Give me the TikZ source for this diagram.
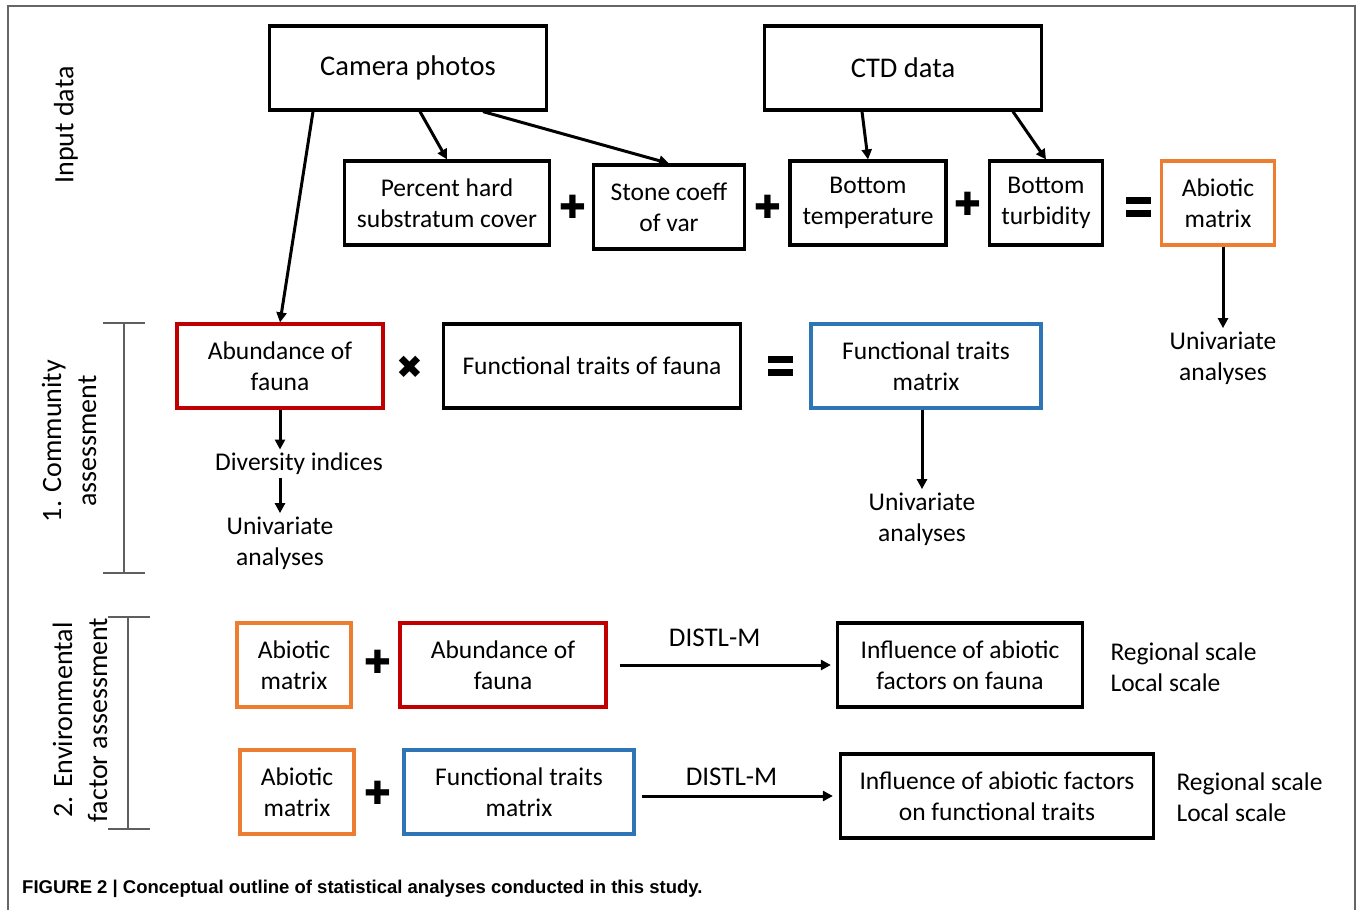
\documentclass[tikz,border=0pt]{standalone}
\usepackage{fontspec}
\setmainfont{Carlito}
\newfontfamily\symfont{DejaVu Sans}
\newfontfamily\capfont{Liberation Sans}
\usetikzlibrary{arrows.meta}

\definecolor{boxred}{RGB}{192,0,0}
\definecolor{boxorange}{RGB}{237,125,49}
\definecolor{boxblue}{RGB}{46,117,182}
\definecolor{bracketgray}{RGB}{95,95,95}

\newcommand\eqsign{\vbox{\hrule width 25pt height 7pt\vskip 6pt\hrule width 25pt height 7pt}}

\tikzset{
  box/.style={draw, line width=3.2pt, minimum height=84pt, inner sep=0pt, align=center, font=\fontsize{25.5}{31}\selectfont},
  op/.style={inner sep=0pt, font=\symfont\fontsize{32}{32}\selectfont},
  plain/.style={align=center, font=\fontsize{25.5}{31}\selectfont},
  side/.style={rotate=90, align=center, font=\fontsize{28}{35}\selectfont},
  flow/.style={->, line width=3pt},
  bracket/.style={draw=bracketgray, line width=1.1pt},
}

\begin{document}
\begin{tikzpicture}[x=1pt, y=-1pt, >={Triangle[length=10pt,width=10pt]}]
  \useasboundingbox (0,0) rectangle (1358,910);
  % Frame
  \draw[black!60, line width=1.6pt] (8,910) -- (8,6) -- (1355,6) -- (1355,910);

  % Input data
  \node[box, minimum width=277pt, font=\fontsize{28.5}{34}\selectfont] (camera) at (408,68) {Camera photos};
  \node[box, minimum width=277pt, font=\fontsize{28.5}{34}\selectfont] (ctd) at (903,68) {CTD data};
  \node[box, minimum width=205pt] (hard) at (447,203) {Percent hard\\substratum cover};
  \node[box, minimum width=151pt] (stone) at (669,207) {Stone coeff\\of var};
  \node[box, minimum width=156pt] (temp) at (868,203) {Bottom\\temperature};
  \node[box, minimum width=113pt] (turb) at (1046,203) {Bottom\\turbidity};
  \node[box, draw=boxorange, minimum width=113pt] (abiotic) at (1218,203) {Abiotic\\matrix};
  \node[op] (plusa) at (573,207) {✚};
  \node[op] (plusb) at (768,207) {✚};
  \node[op] (plusc) at (968,204) {✚};
  \node[inner sep=0pt] (eqa) at (1138,207) {\eqsign};
  \node[plain] (uniabio) at (1223,358) {Univariate\\analyses};

  % Community assessment
  \node[box, draw=boxred, minimum width=206pt] (abund) at (280,366) {Abundance of\\fauna};
  \node[op] (times) at (410,367) {✖};
  \node[box, minimum width=297pt] (traits) at (592,366) {Functional traits of fauna};
  \node[inner sep=0pt] (eqb) at (780,366) {\eqsign};
  \node[box, draw=boxblue, minimum width=230pt] (ftm) at (926,366) {Functional traits\\matrix};
  \node[plain] (div) at (299,464) {Diversity indices};
  \node[plain] (unifauna) at (280,543) {Univariate\\analyses};
  \node[plain] (unitraits) at (922,519) {Univariate\\analyses};

  % Environmental factor assessment
  \node[box, draw=boxorange, minimum width=114pt] (abiob) at (294,665) {Abiotic\\matrix};
  \node[op] (plusd) at (378,662) {✚};
  \node[box, draw=boxred, minimum width=206pt] (abundb) at (503,665) {Abundance of\\fauna};
  \node[box, minimum width=245pt] (inflfauna) at (960,665) {Influence of abiotic\\factors on fauna};
  \node[plain, align=left, anchor=west] (scalea) at (1107,667) {Regional scale\\Local scale};

  \node[box, draw=boxorange, minimum width=114pt] (abioc) at (297,792) {Abiotic\\matrix};
  \node[op] (pluse) at (378,793) {✚};
  \node[box, draw=boxblue, minimum width=230pt] (ftmb) at (519,792) {Functional traits\\matrix};
  \node[box, minimum width=313pt] (infltraits) at (997,796) {Influence of abiotic factors\\on functional traits};
  \node[plain, align=left, anchor=west] (scaleb) at (1173,797) {Regional scale\\Local scale};

  % Side labels
  \node[side] (inlabel) at (66,125) {Input data};
  \node[side] (comlabel) at (69,441) {1. Community\\assessment};
  \node[side] (envlabel) at (80,720) {2. Environmental\\factor assessment};
  \draw[bracket] (103,323) -- (145,323) (124,323) -- (124,573) (103,573) -- (145,573);
  \draw[bracket] (108,617) -- (150,617) (128,617) -- (128,829) (108,829) -- (150,829);

  % Arrows
  \draw[flow] ([xshift=-95pt]camera.south) -- (abund.north);
  \draw[flow] ([xshift=12pt]camera.south) -- (hard.north);
  \draw[flow] ([xshift=75pt]camera.south) -- (stone.north);
  \draw[flow] ([xshift=-41pt]ctd.south) -- (temp.north);
  \draw[flow] ([xshift=110pt]ctd.south) -- (turb.north);
  \draw[flow] (abiotic.south -| uniabio.north) -- (uniabio.north);
  \draw[flow] (abund.south) -- (abund.south |- div.north);
  \draw[flow] (div.south -| abund.south) -- (unifauna.north);
  \draw[flow] (ftm.south -| unitraits.north) -- (unitraits.north);
  \draw[flow] ([xshift=12pt]abundb.east) -- node[above=13pt, pos=0.45, font=\fontsize{27}{31}\selectfont] (distla) {DISTL-M} ([xshift=-5pt]inflfauna.west);
  \draw[flow] ([xshift=6pt]infltraits.west -| ftmb.east) -- node[above=5pt, pos=0.47, font=\fontsize{27}{31}\selectfont] (distlb) {DISTL-M} ([xshift=-6pt]infltraits.west);

  % Caption
  \node[anchor=west, inner sep=0pt, font=\capfont\bfseries\fontsize{18.5}{21}\selectfont] (caption) at (22,889) {FIGURE 2 | Conceptual outline of statistical analyses conducted in this study.};
\end{tikzpicture}
\end{document}
